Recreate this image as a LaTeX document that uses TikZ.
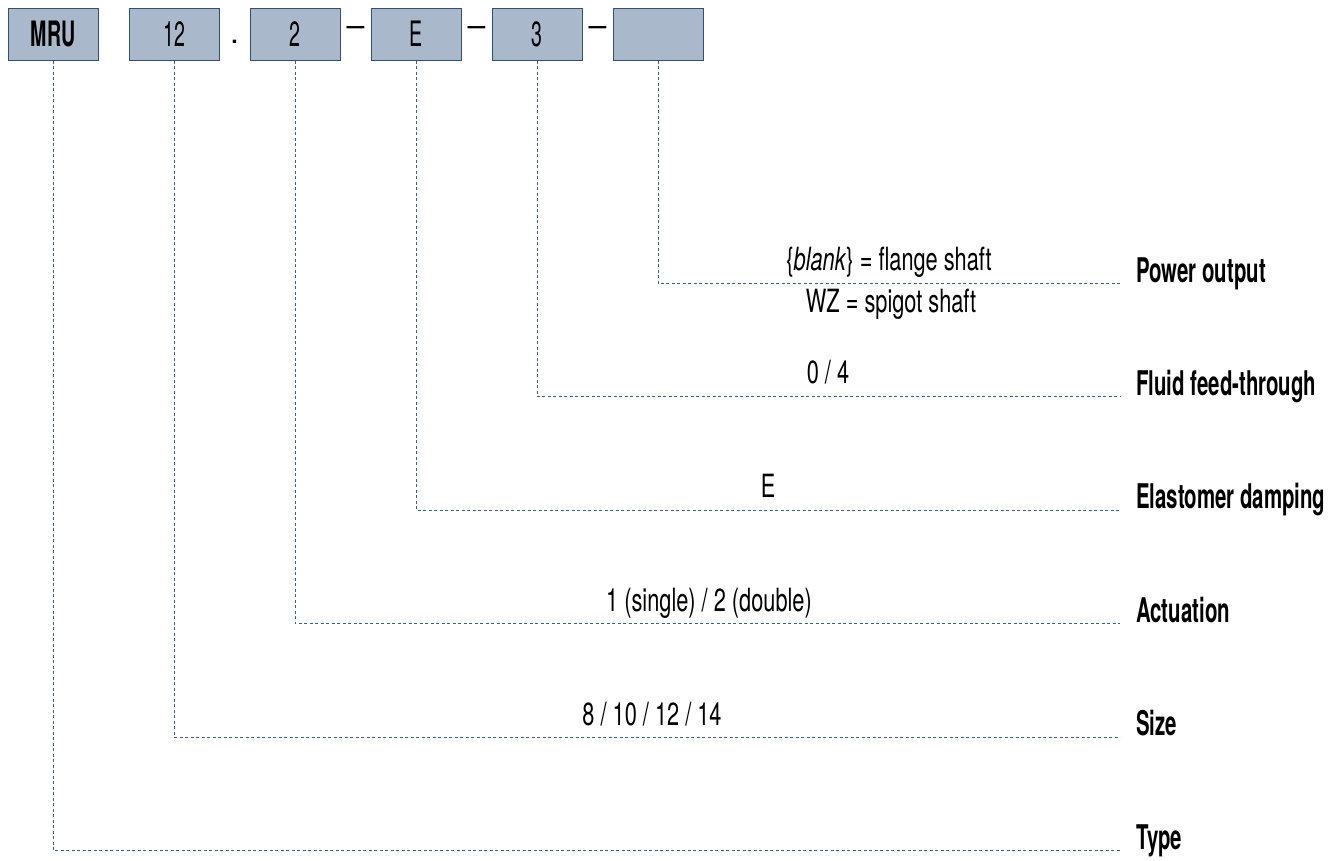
\documentclass[tikz,border=0pt]{standalone}
\usepackage{fontspec}
\setmainfont{TeX Gyre Heros}
\newfontfamily\labfont[FakeStretch=0.6]{TeX Gyre Heros}
\newfontfamily\valfont[FakeStretch=0.68]{TeX Gyre Heros}
\newfontfamily\boxfont[FakeStretch=0.56]{TeX Gyre Heros}
\definecolor{boxfill}{HTML}{AAB8CC}
\definecolor{boxline}{HTML}{34506C}
\definecolor{conncol}{HTML}{3D5F80}
\tikzset{
  codebox/.style={draw=boxline, fill=boxfill, line width=1pt, minimum width=90pt, minimum height=52pt, inner sep=0pt, font=\boxfont\fontsize{35}{35}\selectfont},
  conn/.style={draw=conncol, line width=1pt, dash pattern=on 3pt off 2.5pt},
  lab/.style={anchor=base west, inner sep=0pt, font=\labfont\bfseries\fontsize{34}{34}\selectfont},
  val/.style={anchor=base, inner sep=0pt, font=\valfont\fontsize{32}{32}\selectfont},
  sepmark/.style={inner sep=0pt, font=\fontsize{32}{32}\selectfont}
}
\begin{document}
\begin{tikzpicture}[x=1pt,y=-1pt]
\useasboundingbox (0,0) rectangle (1340,860);
% code boxes
\node[codebox] (mru) at (53,34) {\bfseries MRU};
\node[codebox] (size) at (174,34) {12};
\node[codebox] (act) at (295,34) {2};
\node[codebox] (ela) at (416,34) {E};
\node[codebox] (flu) at (537,34) {3};
\node[codebox] (pow) at (658,34) {};
% separators
\node[sepmark, anchor=base] (dot) at (234.5,43) {.};
\node[sepmark] (d1) at (355.5,32) {–};
\node[sepmark] (d2) at (476.5,32) {–};
\node[sepmark] (d3) at (597.5,32) {–};
% labels
\node[lab] (lpow) at (1136,282) {Power output};
\node[lab] (lflu) at (1136,395) {Fluid feed-through};
\node[lab] (lela) at (1136,508) {Elastomer damping};
\node[lab] (lact) at (1136,622) {Actuation};
\node[lab] (lsize) at (1136,735) {Size};
\node[lab] (ltype) at (1136,849) {Type};
% line ends
\coordinate (epow) at (1120,283.5);
\coordinate (eflu) at (1120,396.5);
\coordinate (eela) at (1120,510);
\coordinate (eact) at (1120,623.5);
\coordinate (esize) at (1120,737);
\coordinate (etype) at (1120,850.5);
% connectors
\draw[conn] (pow.south) |- (epow);
\draw[conn] (flu.south) |- (eflu);
\draw[conn] (ela.south) |- (eela);
\draw[conn] (act.south) |- (eact);
\draw[conn] (size.south) |- (esize);
\draw[conn] (mru.south) |- (etype);
% values
\node[val] (vpow1) at (889,270) {\{\textit{blank}\} = flange shaft};
\node[val] (vpow2) at (891,312) {WZ = spigot shaft};
\node[val] (vflu) at (828,383) {0 / 4};
\node[val] (vela) at (768,497) {E};
\node[val] (vact) at (709,611) {1 (single) / 2 (double)};
\node[val] (vsize) at (652,725) {8 / 10 / 12 / 14};
\end{tikzpicture}
\end{document}
